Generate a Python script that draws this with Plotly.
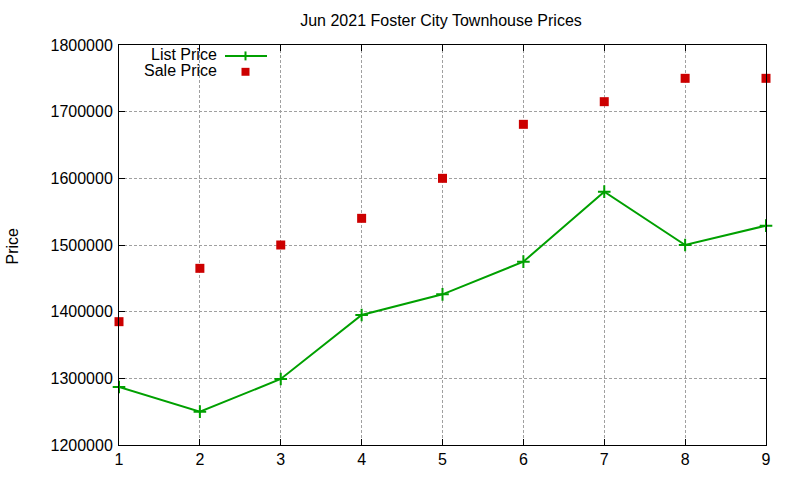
import plotly.graph_objects as go

# data
months = [1, 2, 3, 4, 5, 6, 7, 8, 9]
list_price = [1287000, 1250000, 1299000, 1395000, 1426000, 1475000, 1580000, 1500000, 1529000]
sale_price = [1385000, 1465000, 1500000, 1540000, 1600000, 1681000, 1715000, 1750000, 1750000]

title_text = "Jun 2021 Foster City Townhouse Prices"
y_label = "Price"
y_ticks = [1200000, 1300000, 1400000, 1500000, 1600000, 1700000, 1800000]

GREEN = "#00a000"
RED = "#cc0000"
FONT = "Liberation Sans, Arial, sans-serif"

fig = go.Figure()
fig.add_trace(go.Scatter(
    x=months, y=list_price, name="List Price", mode="lines+markers",
    line=dict(color=GREEN, width=2),
    marker=dict(symbol="cross-thin", size=9, line=dict(color=GREEN, width=2)),
    cliponaxis=False,
))
fig.add_trace(go.Scatter(
    x=months, y=sale_price, name="Sale Price", mode="markers",
    marker=dict(symbol="square", size=9, color=RED),
    cliponaxis=False,
))

# gnuplot style legend: text right aligned, sample on the right
W, H = 647.0, 403.0
def px(x):
    return (x - 119) / W
def py(y):
    return (448 - y) / H

legend_rows = [("List Price", 55), ("Sale Price", 71)]
for label, ypix in legend_rows:
    fig.add_annotation(x=px(219), y=py(ypix), xref="paper", yref="paper",
                       text=label, showarrow=False, xanchor="right", yanchor="middle",
                       font=dict(family=FONT, size=16, color="black"))
fig.add_shape(type="line", xref="paper", yref="paper",
              x0=px(225), x1=px(267), y0=py(56), y1=py(56),
              line=dict(color=GREEN, width=2))
fig.add_shape(type="line", xref="paper", yref="paper",
              x0=px(245.5), x1=px(245.5), y0=py(51.5), y1=py(60.5),
              line=dict(color=GREEN, width=2))
fig.add_shape(type="rect", xref="paper", yref="paper",
              x0=px(241.5), x1=px(249.5), y0=py(68), y1=py(76),
              line=dict(width=0), fillcolor=RED)

axis_common = dict(
    showline=True, linecolor="black", linewidth=1, mirror="ticks",
    ticks="inside", ticklen=6, tickcolor="black",
    showgrid=True, gridcolor="#a0a0a0", gridwidth=1, griddash="3px,2px",
    zeroline=False, tickfont=dict(family=FONT, size=16, color="black"),
)
fig.update_xaxes(range=[1, 9], tickmode="array", tickvals=months, **axis_common)
fig.update_yaxes(range=[1200000, 1800000], tickmode="array", tickvals=y_ticks,
                 ticktext=[str(v) for v in y_ticks], ticklabelstandoff=2, **axis_common)

fig.add_annotation(x=px(12), y=py(248), xref="paper", yref="paper", text=y_label,
                   showarrow=False, textangle=-90, xanchor="center", yanchor="middle",
                   font=dict(family=FONT, size=16, color="black"))

fig.update_layout(
    width=800, height=480, autosize=False,
    margin=dict(l=119, r=34, t=45, b=32),
    paper_bgcolor="white", plot_bgcolor="white",
    showlegend=False,
    title=dict(text=title_text, x=px(441), xref="paper", xanchor="center",
               y=1 - 20 / 480.0, yanchor="middle",
               font=dict(family=FONT, size=16, color="black")),
)

# drop the default page margin so the figure sits at the window corner
fig.write_html("out.html", config={"displayModeBar": False, "responsive": False},
               post_script="document.body.style.margin='0';document.body.style.overflow='hidden';")
